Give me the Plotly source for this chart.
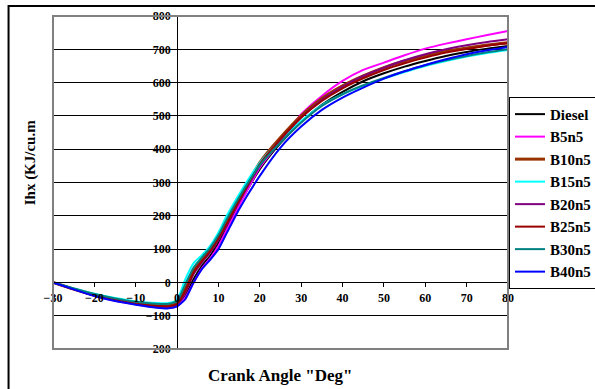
import plotly.graph_objects as go

crank_angle = [-30, -25, -20, -15, -10, -5, -2, 0, 2, 4, 6, 8, 10, 12, 15, 20, 25, 30, 35, 40, 45, 50, 55, 60, 65, 70, 75, 80]

diesel = [0, -20, -38, -52, -63, -70, -72, -68, -40, 10, 50, 80, 118, 165, 235, 340, 418, 482, 533, 572, 604, 628, 648, 665, 680, 692, 702, 710]
b5n5   = [0, -21, -40, -55, -66, -74, -76, -72, -45, 0, 42, 72, 110, 158, 230, 345, 425, 505, 560, 605, 638, 660, 682, 702, 717, 730, 743, 755]
b10n5  = [0, -20, -38, -52, -63, -70, -70, -62, -20, 35, 68, 98, 135, 180, 250, 360, 435, 500, 552, 590, 620, 645, 665, 680, 694, 704, 713, 720]
b15n5  = [0, -18, -34, -47, -57, -62, -62, -52, 10, 58, 82, 110, 150, 200, 265, 360, 428, 485, 532, 565, 590, 612, 632, 650, 665, 678, 689, 698]
b20n5  = [0, -20, -39, -53, -64, -72, -73, -66, -30, 25, 60, 90, 128, 172, 242, 350, 428, 495, 548, 588, 620, 645, 667, 685, 700, 712, 722, 730]
b25n5  = [0, -20, -39, -53, -64, -71, -72, -64, -25, 30, 64, 94, 132, 176, 246, 355, 430, 495, 545, 583, 613, 638, 658, 675, 690, 701, 711, 718]
b30n5  = [0, -18, -35, -48, -58, -64, -64, -56, -5, 45, 75, 104, 142, 190, 256, 352, 420, 480, 530, 565, 592, 614, 634, 652, 667, 680, 691, 700]
b40n5  = [0, -21, -41, -56, -67, -76, -78, -72, -50, 0, 40, 68, 100, 148, 220, 320, 405, 468, 518, 555, 585, 612, 634, 653, 670, 685, 697, 707]

series_names = ["Diesel", "B5n5", "B10n5", "B15n5", "B20n5", "B25n5", "B30n5", "B40n5"]
series_values = [diesel, b5n5, b10n5, b15n5, b20n5, b25n5, b30n5, b40n5]
series_colors = ["#000000", "#FF00FF", "#993300", "#00FFFF", "#800080", "#990000", "#008080", "#0000FF"]
series_widths = [2, 2, 3, 2, 2, 2, 2, 2]

y_ticks = list(range(-200, 801, 100))
x_ticks = list(range(-30, 81, 10))

FONT = "Liberation Serif"

fig = go.Figure()
for name, vals, col, w in zip(series_names, series_values, series_colors, series_widths):
    fig.add_trace(go.Scatter(x=crank_angle, y=vals, mode="lines", name=name,
                             legendgroup=name,
                             line=dict(color=col, width=w, shape="spline", smoothing=0.6)))

W, H = 595, 389
L, R, T, B = 52.5, 87, 16, 39.5
pw, ph = W - L - R, H - T - B

def px_x(p):
    return (p - L) / pw

def px_y(p):
    return (H - B - p) / ph

fig.update_layout(
    width=W, height=H,
    margin=dict(l=L, r=R, t=T, b=B, pad=0, autoexpand=False),
    paper_bgcolor="white", plot_bgcolor="white",
    font=dict(family=FONT, color="black"),
    showlegend=True,
    legend=dict(x=px_x(509), y=px_y(97), xanchor="left", yanchor="top",
                bgcolor="white", bordercolor="black", borderwidth=1,
                font=dict(family=FONT, size=15, weight="bold", color="black"),
                itemwidth=30, tracegroupgap=0),
    xaxis=dict(range=[-30, 80], tickvals=x_ticks, anchor="free", position=0.2,
               showline=True, linecolor="black", linewidth=1,
               ticks="outside", ticklen=4, tickcolor="black",
               showgrid=False, zeroline=False,
               tickfont=dict(family=FONT, size=12, weight="bold", color="black")),
    yaxis=dict(range=[-200, 800], tickvals=y_ticks, anchor="free", position=30 / 110,
               showline=True, linecolor="black", linewidth=1,
               ticks="outside", ticklen=4, tickcolor="black",
               showgrid=True, gridcolor="black", gridwidth=1, zeroline=False,
               tickfont=dict(family=FONT, size=12, weight="bold", color="black")),
    shapes=[
        dict(type="rect", xref="paper", yref="paper", x0=0, x1=1, y0=0, y1=1,
             line=dict(color="#808080", width=2), layer="above"),
        dict(type="rect", xref="paper", yref="paper", x0=px_x(8), x1=px_x(640),
             y0=px_y(440), y1=px_y(6), line=dict(color="black", width=2), layer="above"),
    ],
    annotations=[
        dict(text="Ihx (KJ/cu.m", xref="paper", yref="paper", x=px_x(30), y=px_y(163),
             textangle=-90, showarrow=False, xanchor="center", yanchor="middle",
             font=dict(family=FONT, size=15, weight="bold", color="black")),
        dict(text="Crank Angle \"Deg\"", xref="paper", yref="paper", x=px_x(280), y=px_y(376),
             showarrow=False, xanchor="center", yanchor="middle",
             font=dict(family=FONT, size=17, weight="bold", color="black")),
    ],
)

fig.write_html("out.html")
